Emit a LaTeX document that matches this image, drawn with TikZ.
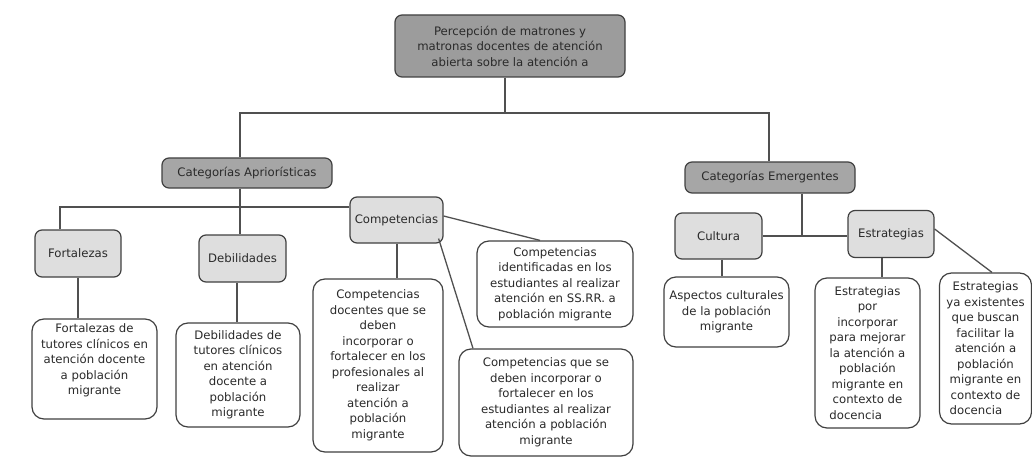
\documentclass[tikz,border=0pt]{standalone}
\usepackage{fontspec}
\setmainfont{DejaVu Sans}
\usepackage{calc}
\usetikzlibrary{calc}
\definecolor{edgec}{HTML}{404040}
\definecolor{linec}{HTML}{505050}
\definecolor{txtc}{HTML}{2A2A2A}
\definecolor{gmain}{HTML}{9C9C9C}
\definecolor{gcat}{HTML}{A6A6A6}
\definecolor{gsub}{HTML}{DEDEDE}
\tikzset{
  box/.style={draw=edgec, line width=1.2pt, rounded corners=7pt, align=center,
    inner sep=2pt, text=txtc, font=\fontsize{11.7}{15.5}\selectfont},
  mainbox/.style={box, fill=gmain},
  catbox/.style={box, fill=gcat},
  subbox/.style={box, fill=gsub},
  descbox/.style={box, fill=white, rounded corners=12pt},
  conn/.style={draw=linec, line width=1.3pt}
}
\begin{document}
\begin{tikzpicture}[x=1pt,y=-1pt]
\useasboundingbox (0,0) rectangle (1032,457);
% top
\node[mainbox, minimum width=230, minimum height=62] (top) at (510,46)
  {Percepción de matrones y\\matronas docentes de atención\\abierta sobre la atención a};
% categories
\node[catbox, minimum width=170, minimum height=30] (ca) at (247,173) {Categorías Apriorísticas};
\node[catbox, minimum width=170, minimum height=31] (ce) at (770,177.5) {Categorías Emergentes};
% subcategories
\node[subbox, minimum width=86, minimum height=47] (fort) at (78,253.5) {Fortalezas};
\node[subbox, minimum width=87, minimum height=47] (deb) at (242.5,258.5) {Debilidades};
\node[subbox, minimum width=93, minimum height=46] (comp) at (396.5,220) {Competencias};
\node[subbox, minimum width=87, minimum height=46] (cult) at (718.5,236) {Cultura};
\node[subbox, minimum width=86, minimum height=47] (estr) at (891,234) {Estrategias};
% descriptions
\node[descbox, minimum width=125, minimum height=100] (fortd) at (94.5,369)
  {Fortalezas de\\tutores clínicos en\\atención docente\\a población\\migrante\\[4pt]\mbox{}};
\node[descbox, minimum width=124, minimum height=104] (debd) at (238,375)
  {Debilidades de\\tutores clínicos\\en atención\\docente a\\población\\migrante};
\node[descbox, minimum width=130, minimum height=173] (compd) at (378,365.5)
  {Competencias\\docentes que se\\deben\\incorporar o\\fortalecer en los\\profesionales al\\realizar\\atención a\\población\\migrante};
\node[descbox, minimum width=156, minimum height=86] (compi) at (555,284)
  {Competencias\\identificadas en los\\estudiantes al realizar\\atención en SS.RR. a\\población migrante};
\node[descbox, minimum width=174, minimum height=107] (compe) at (546,402.5)
  {Competencias que se\\deben incorporar o\\fortalecer en los\\estudiantes al realizar\\atención a población\\migrante};
\node[descbox, minimum width=125, minimum height=70] (aspec) at (726.5,312)
  {Aspectos culturales\\de la población\\migrante};
\node[descbox, minimum width=105, minimum height=150] (estp) at (867.5,353)
  {Estrategias\\por\\incorporar\\para mejorar\\la atención a\\población\\migrante en\\contexto de\\\makebox[\widthof{para mejorar}][l]{docencia}};
\node[descbox, minimum width=92, minimum height=151] (esty) at (985.5,348.5)
  {Estrategias\\ya existentes\\que buscan\\facilitar la\\atención a\\población\\migrante en\\contexto de\\\makebox[\widthof{migrante en}][l]{docencia}};
% junction coordinates
\coordinate (j0) at (505,113);
\coordinate (jl) at (240,113);
\coordinate (jr) at (769,113);
\coordinate (ja) at (240,207);
\coordinate (jf) at (60,207);
\coordinate (jc) at (802,236);
\coordinate (xf) at (78,0);
\coordinate (xd) at (237,0);
\coordinate (xcd) at (397,0);
\coordinate (xci) at (540,0);
\coordinate (xce) at (473,0);
\coordinate (xa) at (722,0);
\coordinate (xp) at (882,0);
\coordinate (xy) at (992,0);
% connectors
\draw[conn] (j0 |- top.south) -- (j0);
\draw[conn] (jl |- ca.north) -- (jl) -- (jr) -- (jr |- ce.north);
\draw[conn] (ja |- ca.south) -- (ja |- deb.north);
\draw[conn] (jf |- fort.north) -- (jf) -- (jf -| comp.west);
\draw[conn] (xf |- fort.south) -- (xf |- fortd.north);
\draw[conn] (xd |- deb.south) -- (xd |- debd.north);
\draw[conn] (xcd |- comp.south) -- (xcd |- compd.north);
\draw[conn] ($(comp.east)+(0,-4)$) -- (xci |- compi.north);
\draw[conn] ($(comp.south east)+(-5,-5)$) -- (xce |- compe.north);
\draw[conn] (cult.east) -- (cult.east -| estr.west);
\draw[conn] (jc |- ce.south) -- (jc);
\draw[conn] (xa |- cult.south) -- (xa |- aspec.north);
\draw[conn] (xp |- estr.south) -- (xp |- estp.north);
\draw[conn] ($(estr.east)+(0,-5)$) -- (xy |- esty.north);
\end{tikzpicture}
\end{document}
